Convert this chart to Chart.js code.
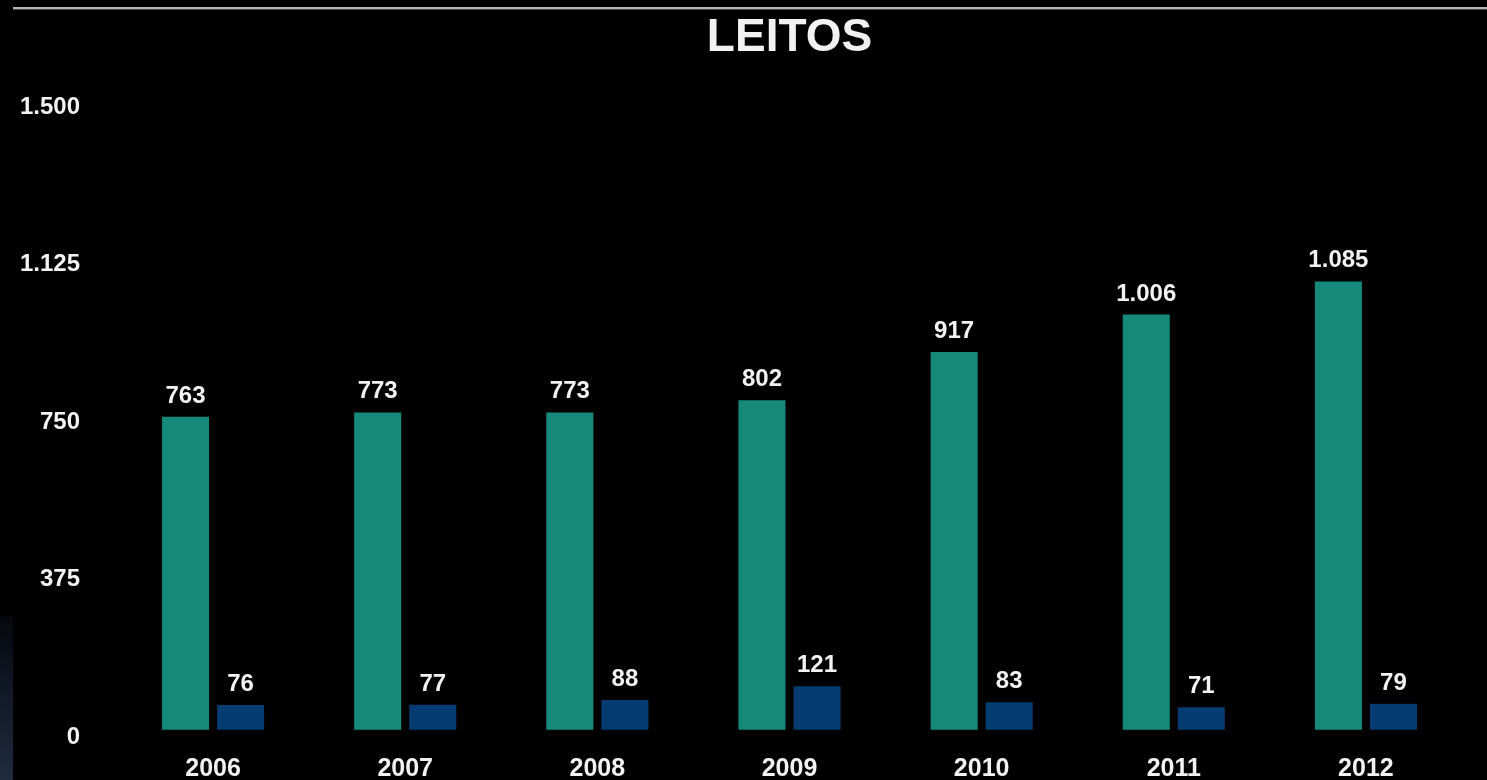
<!DOCTYPE html>
<html lang="pt-BR">
<head>
<meta charset="utf-8">
<title>LEITOS</title>
<script src="https://cdn.jsdelivr.net/npm/chart.js@4/dist/chart.umd.min.js"></script>
<style>
  html, body { margin: 0; padding: 0; background: #000; overflow: hidden; }
  #wrap { position: relative; width: 1487px; height: 780px; background: #000; }
  #rule { position: absolute; left: 13px; right: 0; top: 7px; height: 2px; background: #b4b4b4; border-bottom: 1px solid #4a4a4a; }
  #edge { position: absolute; left: 0; top: 616px; width: 13px; height: 164px;
          background: linear-gradient(to bottom, #05070b 0%, #111826 45%, #1f2b3f 100%); }
  #chart { position: absolute; left: 0; top: 0; }
</style>
</head>
<body>
<div id="wrap">
  <div id="rule"></div>
  <div id="edge"></div>
  <canvas id="chart" width="1487" height="780"></canvas>
</div>
<script>
// Anos e quantidade de leitos por série
const anos = ['2006', '2007', '2008', '2009', '2010', '2011', '2012'];
const leitosSerieA = [763, 773, 773, 802, 917, 1006, 1085];
const leitosSerieB = [76, 77, 88, 121, 83, 71, 79];
const ticksEixoY = [0, 375, 750, 1125, 1500];

const corVerde = '#16897a';
const corAzul = '#053c71';
const corTexto = '#f2f2f2';
const fonte = '"Liberation Sans", Arial, sans-serif';

// Separador de milhar no padrão brasileiro (1.085)
function formatarNumero(v) {
  return String(Math.round(v)).replace(/\B(?=(\d{3})+(?!\d))/g, '.');
}

// Rótulos de valor acima de cada barra
const rotulosValor = {
  id: 'rotulosValor',
  afterDatasetsDraw(chart) {
    const ctx = chart.ctx;
    ctx.save();
    ctx.fillStyle = corTexto;
    ctx.font = 'bold 24px ' + fonte;
    ctx.textAlign = 'center';
    ctx.textBaseline = 'alphabetic';
    chart.data.datasets.forEach((ds, i) => {
      const meta = chart.getDatasetMeta(i);
      meta.data.forEach((bar, j) => {
        ctx.fillText(formatarNumero(ds.data[j]), bar.x, bar.y - 14);
      });
    });
    ctx.restore();
  }
};

new Chart(document.getElementById('chart'), {
  type: 'bar',
  data: {
    labels: anos,
    datasets: [
      { label: 'Leitos A', data: leitosSerieA, backgroundColor: corVerde, base: 17 },
      { label: 'Leitos B', data: leitosSerieB, backgroundColor: corAzul, base: 17 }
    ]
  },
  options: {
    responsive: false,
    animation: false,
    devicePixelRatio: 1,
    layout: { padding: { left: 0, right: 25, top: 0, bottom: 0 } },
    datasets: {
      bar: { categoryPercentage: 0.573, barPercentage: 0.855 }
    },
    plugins: {
      legend: { display: false },
      tooltip: { enabled: false },
      title: {
        display: true,
        text: 'LEITOS',
        color: corTexto,
        fullSize: false,
        font: { family: fonte, size: 46, weight: 'bold' },
        padding: { top: 11, bottom: 41 }
      }
    },
    scales: {
      x: {
        grid: { display: false, drawTicks: false },
        border: { display: false },
        ticks: {
          color: corTexto,
          padding: 17,
          maxRotation: 0,
          font: { family: fonte, size: 25, weight: 'bold' }
        },
        afterFit(s) { s.height = 43; }
      },
      y: {
        min: 0,
        max: 1500,
        // tick marks are hidden; their length only sets the gap before the labels
        grid: { display: false, drawTicks: true, tickLength: 37 },
        border: { display: false },
        afterBuildTicks(s) { s.ticks = ticksEixoY.map(v => ({ value: v })); },
        ticks: {
          color: corTexto,
          padding: 0,
          font: { family: fonte, size: 24, weight: 'bold' },
          callback: v => formatarNumero(v)
        },
        afterFit(s) { s.width = 117; }
      }
    }
  },
  plugins: [rotulosValor]
});
</script>
</body>
</html>
